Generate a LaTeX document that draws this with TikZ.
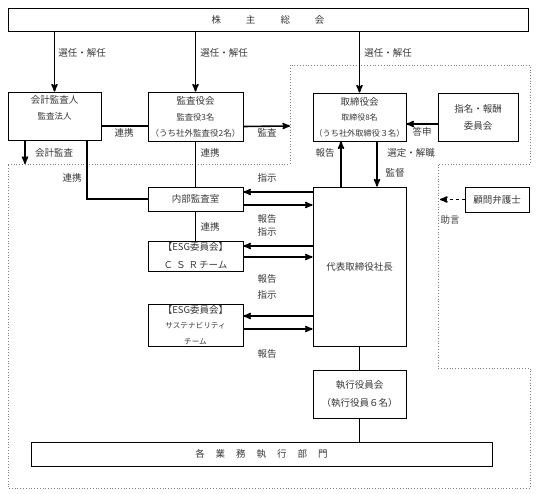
\documentclass[tikz,border=0pt]{standalone}
\usepackage{fontspec}
\setmainfont{Noto Sans CJK JP}
\usetikzlibrary{arrows}

\definecolor{txtcol}{rgb}{0.22,0.22,0.22}
\tikzset{
  box/.style={draw, line width=0.8bp, inner sep=0pt, align=center, text=txtcol},
  lbl/.style={text=txtcol, inner sep=0pt, font=\fontsize{9.5bp}{11bp}\selectfont},
  link/.style={line width=1.6bp},
}
\newcommand{\fsz}[2]{\fontsize{#1bp}{#2bp}\selectfont}

\begin{document}
\begin{tikzpicture}[>=stealth']
\useasboundingbox (0bp,0bp) rectangle (537bp,494bp);
%% dotted frame
  \draw [dotted, line width=0.8bp, gray] (8bp,330bp) -- (290bp,330bp) -- (290bp,429bp) -- (530bp,429bp)
    -- (530bp,330bp) -- (438bp,330bp) -- (438bp,126bp) -- (530bp,126bp) -- (530bp,6bp) -- (8bp,6bp) -- cycle;
%% boxes
  \node (soukai) at (268bp,474.5bp) [box, minimum width=520bp, minimum height=23bp, font=\fsz{9.5}{11}]
    {株\hspace{25bp}主\hspace{25bp}総\hspace{25bp}会};
  \node (kaikei) at (54.5bp,378bp) [box, minimum width=93bp, minimum height=48bp, font=\fsz{9.5}{16}]
    {会計監査人\\{\fsz{8.5}{16}監査法人}\\\mbox{}};
  \node (kansa) at (195.5bp,377.5bp) [box, minimum width=95bp, minimum height=49bp, font=\fsz{9.5}{16}]
    {監査役会\\{\fsz{8.3}{16}監査役3名}\\{\fsz{8.5}{16}（うち社外監査役2名）}};
  \node (torishimari) at (359.5bp,377bp) [box, minimum width=93bp, minimum height=48bp, font=\fsz{9.5}{15.5}]
    {取締役会\\{\fsz{8}{15.5}取締役8名}\\{\fsz{8.2}{15.5}（うち社外取締役３名）}};
  \node (shimei) at (478bp,377bp) [box, minimum width=80bp, minimum height=48bp, font=\fsz{9.5}{17}]
    {指名・報酬\\委員会};
  \node (naibu) at (195.5bp,295bp) [box, minimum width=95bp, minimum height=24bp, font=\fsz{9.5}{11}]
    {内部監査室};
  \node (csr) at (195.5bp,238bp) [box, minimum width=95bp, minimum height=30bp, font=\fsz{9.5}{18}]
    {【ESG委員会】\\Ｃ\hspace{3bp}Ｓ\hspace{3bp}Ｒ\hspace{1bp}チーム};
  \node (sus) at (195.5bp,169bp) [box, minimum width=95bp, minimum height=42bp, font=\fsz{9.5}{15.5}]
    {【ESG委員会】\\{\fsz{7.6}{15.5}サステナビリティ}\\{\fsz{7.6}{15.5}チーム}};
  \node (daihyo) at (359.5bp,227.5bp) [box, minimum width=93bp, minimum height=159bp, font=\fsz{9.5}{11}]
    {代表取締役社長};
  \node (komon) at (497bp,294.5bp) [box, minimum width=64bp, minimum height=25bp, font=\fsz{9.5}{11}]
    {顧問弁護士};
  \node (shikko) at (359.5bp,100bp) [box, minimum width=93bp, minimum height=48bp, font=\fsz{9.5}{18.5}]
    {執行役員会\\（執行役員６名）};
  \node (gyomu) at (261.5bp,40bp) [box, minimum width=461bp, minimum height=24bp, font=\fsz{9.5}{11}]
    {各\hspace{11bp}業\hspace{11bp}務\hspace{11bp}執\hspace{11bp}行\hspace{11bp}部\hspace{11bp}門};
%% free ends on the frame
  \coordinate (kaikeiEnd) at (25bp,330bp);
  \coordinate (kansaEnd) at (290bp,368bp);
  \coordinate (jogenEnd) at (440bp,294.5bp);
%% connectors
  \draw [link,->] (soukai.south -| kaikei.north) -- (kaikei.north);
  \draw [link,->] (soukai.south -| kansa.north) -- (kansa.north);
  \draw [link,->] (soukai.south -| torishimari.north) -- (torishimari.north);
  \draw [link] ([yshift=-10bp]kaikei.east) -- ([yshift=-10bp]kaikei.east -| kansa.west);
  \draw [link,->] ([yshift=-10bp]kansa.east) -- (kansaEnd);
  \draw [link,->] ([xshift=-29.5bp]kaikei.south) -- (kaikeiEnd);
  \draw [link] ([xshift=32.5bp]kaikei.south) |- (naibu.west);
  \draw [link] (kansa.south -| naibu.north) -- (naibu.north);
  \draw [link] (naibu.south) -- (csr.north);
  \draw [link,->] ([yshift=-7bp]shimei.west) -- ([yshift=-7bp]shimei.west -| torishimari.east);
  \draw [link,->] ([xshift=-18.5bp]daihyo.north) -- ([xshift=-18.5bp]torishimari.south);
  \draw [link,->] ([xshift=17.5bp]torishimari.south) -- ([xshift=17.5bp]daihyo.north);
  \draw [link,->] ([yshift=7bp]naibu.east -| daihyo.west) -- ([yshift=7bp]naibu.east);
  \draw [link,->] ([yshift=-6bp]naibu.east) -- ([yshift=-6bp]naibu.east -| daihyo.west);
  \draw [link,->] ([yshift=10bp]csr.east -| daihyo.west) -- ([yshift=10bp]csr.east);
  \draw [link,->] ([yshift=-1bp]csr.east) -- ([yshift=-1bp]csr.east -| daihyo.west);
  \draw [link,->] ([yshift=9bp]sus.east -| daihyo.west) -- ([yshift=9bp]sus.east);
  \draw [link,->] ([yshift=-4bp]sus.east) -- ([yshift=-4bp]sus.east -| daihyo.west);
  \draw [link] (daihyo.south) -- (shikko.north);
  \draw [link] (shikko.south) -- (shikko.south |- gyomu.north);
  \draw [link,dashed,->] (komon.west) -- (jogenEnd);
%% labels
  \node (sennin1) at (82bp,441bp) [lbl] {選任・解任};
  \node (sennin2) at (224bp,441bp) [lbl] {選任・解任};
  \node (sennin3) at (388bp,441bp) [lbl] {選任・解任};
  \node (renkei1) at (124bp,361bp) [lbl] {連携};
  \node (kansaLbl) at (267bp,361bp) [lbl] {監査};
  \node (kaikeiLbl) at (54bp,341bp) [lbl] {会計監査};
  \node (renkei2) at (210bp,341bp) [lbl] {連携};
  \node (renkei3) at (72bp,316bp) [lbl] {連携};
  \node (shiji1) at (267bp,316bp) [lbl] {指示};
  \node (hokoku1) at (267bp,275bp) [lbl] {報告};
  \node (shiji2) at (267bp,262bp) [lbl] {指示};
  \node (renkei4) at (210bp,267bp) [lbl] {連携};
  \node (hokoku2) at (267bp,215bp) [lbl] {報告};
  \node (shiji3) at (267bp,199bp) [lbl] {指示};
  \node (hokoku3) at (267bp,140bp) [lbl] {報告};
  \node (hokoku4) at (325bp,341bp) [lbl] {報告};
  \node (sentei) at (411bp,341bp) [lbl] {選定・解職};
  \node (kantoku) at (395bp,321bp) [lbl] {監督};
  \node (toshin) at (422bp,362bp) [lbl] {答申};
  \node (jogen) at (450bp,274bp) [lbl] {助言};
%
\end{tikzpicture}
\end{document}
